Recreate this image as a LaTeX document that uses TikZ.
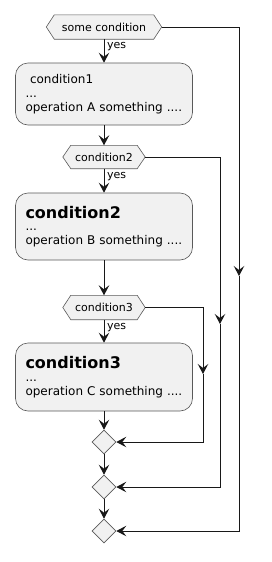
\documentclass[tikz,border=0pt]{standalone}
\usepackage{fontspec}
\setmainfont{DejaVu Sans}
\usetikzlibrary{arrows.meta,shapes.geometric,backgrounds}
\definecolor{boxfill}{HTML}{F1F1F1}
\definecolor{boxline}{HTML}{5A5A5A}
\definecolor{lin}{HTML}{181818}
\begin{document}
\begin{tikzpicture}[x=1pt,y=-1pt,
  act/.style={draw=boxline, line width=0.6pt, fill=boxfill, rounded corners=12.5pt,
    inner xsep=10pt, inner ysep=0pt, text width=157pt, align=left,
    font=\fontsize{12}{13.8}\selectfont},
  hexnode/.style={inner sep=0pt, font=\fontsize{11}{13}\selectfont},
  hexbord/.style={draw=boxline, line width=0.6pt, fill=boxfill},
  merge/.style={diamond, draw=boxline, line width=0.6pt, fill=boxfill,
    minimum width=24pt, minimum height=24pt, inner sep=0pt},
  flow/.style={draw=lin, line width=1pt, -{Stealth[length=10pt,width=10.5pt,inset=4pt]}},
  lbl/.style={font=\fontsize{11}{13}\selectfont, inner sep=0pt, anchor=base west}]
\useasboundingbox (0,0) rectangle (272,562);

% decision hexagons
\node[hexnode, minimum width=115pt, minimum height=24pt] (h1) at (104,27) {some condition};
\node[hexnode, minimum width=82pt, minimum height=23pt] (h2) at (104,157) {condition2};
\node[hexnode, minimum width=82pt, minimum height=24pt] (h3) at (104,307.5) {condition3};
\begin{scope}[on background layer]
\fill[white] (0,0) rectangle (272,562);
\foreach \h in {h1,h2,h3}{
  \filldraw[hexbord] (\h.west) -- ([xshift=8pt]\h.north west) -- ([xshift=-8pt]\h.north east)
    -- (\h.east) -- ([xshift=-8pt]\h.south east) -- ([xshift=8pt]\h.south west) -- cycle;
}
\end{scope}

% activities
\node[act, minimum width=177pt, minimum height=62pt] (b1) at (104,94)
  {\hspace{4.5pt}condition1\\...\\operation A something ....};
\node[act, minimum width=177pt, minimum height=67pt] (b2) at (104,226.5)
  {{\fontsize{16}{16}\selectfont\bfseries condition2}\\[-1pt]...\\operation B something ....};
\node[act, minimum width=177pt, minimum height=68pt] (b3) at (104,377)
  {{\fontsize{16}{16}\selectfont\bfseries condition3}\\[-1pt]...\\operation C something ....};

% merge diamonds
\node[merge] (d1) at (104,442) {};
\node[merge] (d2) at (104,487) {};
\node[merge] (d3) at (104,531) {};

% main flow
\draw[flow] (h1.south) -- (b1.north);
\node[lbl] (y1) at (107,48.5) {yes};
\draw[flow] (b1.south) -- (h2.north);
\draw[flow] (h2.south) -- (b2.north);
\node[lbl] (y2) at (107,178) {yes};
\draw[flow] (b2.south) -- (h3.north);
\draw[flow] (h3.south) -- (b3.north);
\node[lbl] (y3) at (107,329) {yes};
\draw[flow] (b3.south) -- (d1.north);
\draw[flow] (d1.south) -- (d2.north);
\draw[flow] (d2.south) -- (d3.north);

% bypass branches
\coordinate (m1) at (239,276);
\coordinate (m2) at (220,324);
\coordinate (m3) at (203,374);
\draw[flow] (h1.east) -| (m1);
\draw[flow] (m1) |- (d3.east);
\draw[flow] (h2.east) -| (m2);
\draw[flow] (m2) |- (d2.east);
\draw[flow] (h3.east) -| (m3);
\draw[flow] (m3) |- (d1.east);
\end{tikzpicture}
\end{document}
